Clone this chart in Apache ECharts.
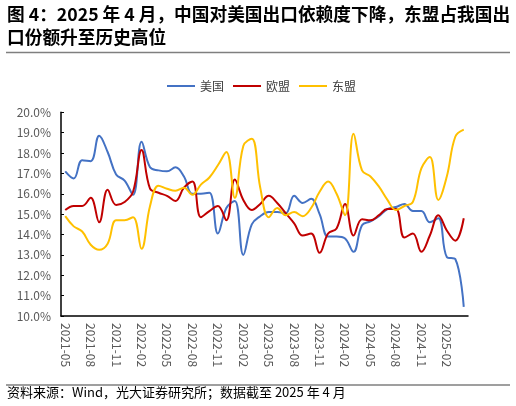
<!DOCTYPE html>
<html>
<head>
<meta charset="utf-8">
<script src="https://cdn.jsdelivr.net/npm/echarts@6/dist/echarts.min.js"></script>
<style>
  html, body { margin: 0; padding: 0; background: #fff; }
  #chart { width: 516px; height: 406px; }
</style>
</head>
<body>
<div id="chart"></div>
<script>
// 月份：2021-05 ~ 2025-04
const months = [];
for (let y = 2021; y <= 2025; y++) {
    for (let m = 1; m <= 12; m++) {
        if ((y === 2021 && m < 5) || (y === 2025 && m > 4)) continue;
        months.push(y + '-' + (m < 10 ? '0' + m : m));
    }
}

// 占我国出口份额（%）
const usShare = [17.1, 16.75, 17.65, 17.6, 18.85, 18.05, 16.95, 16.65, 15.95, 18.55, 17.3, 17.15,
    17.1, 17.3, 16.85, 16.0, 16.0, 16.05, 14.05, 15.3, 15.65, 13.0, 14.5, 14.9,
    15.1, 15.1, 15.05, 15.9, 15.55, 15.75, 15.0, 13.9, 13.9, 13.8, 13.15, 14.45,
    14.65, 14.9, 15.25, 15.35, 15.5, 15.15, 15.15, 14.6, 14.8, 12.9, 12.8, 10.45];
const euShare = [15.2, 15.4, 15.4, 15.8, 14.6, 16.2, 15.45, 15.6, 16.1, 18.15, 16.25, 16.05,
    15.9, 15.65, 16.3, 16.6, 14.85, 15.15, 15.4, 14.7, 16.7, 15.7, 15.2, 15.5,
    15.9, 15.55, 15.05, 14.55, 13.95, 14.05, 13.1, 14.05, 14.3, 15.5, 13.95, 14.75,
    14.7, 14.95, 15.25, 15.25, 13.85, 14.05, 13.15, 13.95, 14.95, 14.2, 13.7, 14.8];
const aseanShare = [14.9, 14.4, 14.15, 13.5, 13.25, 13.55, 14.7, 14.7, 14.85, 13.3, 15.4, 16.4,
    16.25, 16.15, 16.3, 15.95, 16.45, 16.8, 17.4, 18.05, 15.8, 18.35, 18.7, 16.3,
    14.85, 15.3, 14.95, 15.1, 14.9, 15.3, 16.1, 16.6, 16.0, 14.95, 18.95, 17.15,
    16.85, 16.35, 15.7, 15.2, 15.4, 15.6, 17.25, 17.8, 15.7, 16.85, 18.8, 19.15];

const seriesNames = ['美国', '欧盟', '东盟'];
const seriesColors = ['#4472C4', '#C00000', '#FFC000'];
const seriesData = [usShare, euShare, aseanShare];

const FONT = '"Noto Sans CJK SC", "Noto Sans", sans-serif';

const myChart = echarts.init(document.getElementById('chart'));

const option = {
    backgroundColor: '#fff',
    animation: false,
    title: {
        text: '图 4：2025 年 4 月，中国对美国出口依赖度下降，东盟占我国出\n口份额升至历史高位',
        left: 7,
        top: 3,
        padding: 0,
        textStyle: {
            fontFamily: FONT,
            fontSize: 17.7,
            fontWeight: 'bold',
            color: '#000',
            lineHeight: 23
        }
    },
    graphic: [
        { type: 'line', shape: { x1: 6, y1: 52.5, x2: 510, y2: 52.5 }, style: { stroke: '#7f7f7f', lineWidth: 1.5 } },
        { type: 'line', shape: { x1: 6, y1: 385, x2: 510, y2: 385 }, style: { stroke: '#7f7f7f', lineWidth: 1.5 } },
        {
            type: 'text', left: 7, top: 385.5,
            style: {
                text: '资料来源：Wind，光大证券研究所；数据截至 2025 年 4 月',
                fontFamily: FONT, fontSize: 13, fill: '#000'
            }
        }
    ],
    legend: {
        left: 167,
        top: 79,
        padding: 0,
        icon: 'rect',
        itemWidth: 28,
        itemHeight: 2,
        itemGap: 9,
        textStyle: { fontFamily: FONT, fontSize: 12, color: '#404040', lineHeight: 14 },
        data: seriesNames
    },
    grid: { left: 61, right: 48, top: 112.3, bottom: 90 },
    xAxis: {
        type: 'category',
        data: months,
        boundaryGap: true,
        axisLine: { lineStyle: { color: '#000', width: 1.5 } },
        axisTick: { inside: true, length: 3, interval: 2, lineStyle: { color: '#000' } },
        axisLabel: {
            interval: 2,
            rotate: -90,
            margin: 7,
            fontFamily: FONT,
            fontSize: 12,
            color: '#595959'
        },
        splitLine: { show: false }
    },
    yAxis: {
        type: 'value',
        min: 10,
        max: 20,
        interval: 1,
        axisLine: { show: true, lineStyle: { color: '#000', width: 1.5 } },
        axisTick: { show: true, inside: true, length: 3, lineStyle: { color: '#000' } },
        axisLabel: {
            margin: 10,
            fontFamily: FONT,
            fontSize: 12,
            color: '#595959',
            formatter: v => v.toFixed(1) + '%'
        },
        splitLine: { show: false }
    },
    series: seriesNames.map((name, i) => ({
        name: name,
        type: 'line',
        data: seriesData[i],
        smooth: 0.4,
        symbol: 'none',
        lineStyle: { color: seriesColors[i], width: 2 },
        itemStyle: { color: seriesColors[i] }
    }))
};

myChart.setOption(option);
</script>
</body>
</html>
